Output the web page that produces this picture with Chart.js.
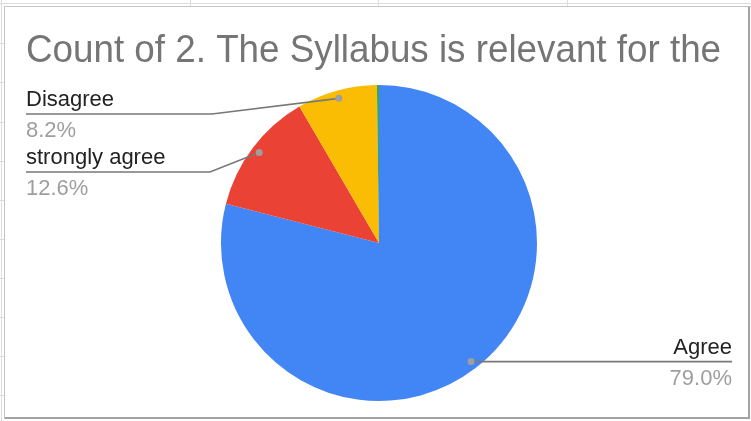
<!DOCTYPE html>
<html>
<head>
<meta charset="utf-8">
<script src="https://cdn.jsdelivr.net/npm/chart.js@4"></script>
<style>
  html, body { margin: 0; padding: 0; background: #fff; }
  #wrap { position: relative; width: 751px; height: 421px; }
</style>
</head>
<body>
<div id="wrap"><canvas id="c" width="751" height="421"></canvas></div>
<script>
// ---- data ----
const titleText = 'Count of 2. The Syllabus is relevant for the';
const categories = ['Agree', 'strongly agree', 'Disagree', 'Strongly disagree'];
const counts = [376, 60, 39, 1];
const sliceColors = ['#4285F4', '#EA4335', '#FBBC04', '#34A853'];
const labelledSlices = ['Agree', 'strongly agree', 'Disagree'];

const FONT = '"Liberation Sans", Arial, sans-serif';

// background: spreadsheet gridlines + chart frame
const sheetBg = {
  id: 'sheetBg',
  beforeDraw(chart) {
    const ctx = chart.ctx;
    const W = chart.width, H = chart.height;
    ctx.save();
    ctx.fillStyle = '#ffffff';
    ctx.fillRect(0, 0, W, H);
    ctx.strokeStyle = '#dcdcdc';
    ctx.lineWidth = 1;
    ctx.beginPath();
    ctx.moveTo(0, 3.5); ctx.lineTo(W, 3.5);
    ctx.moveTo(1.5, 0); ctx.lineTo(1.5, H);
    [190, 378, 567].forEach(x => { ctx.moveTo(x + 0.5, 0); ctx.lineTo(x + 0.5, 6); });
    [43, 82, 122, 161, 200, 239, 278, 317, 356, 395].forEach(y => { ctx.moveTo(0, y + 0.5); ctx.lineTo(4, y + 0.5); });
    ctx.stroke();
    // chart frame
    ctx.strokeStyle = '#c4c4c4';
    ctx.beginPath();
    ctx.moveTo(4.5, 419); ctx.lineTo(4.5, 6.5); ctx.lineTo(751, 6.5);
    ctx.stroke();
    ctx.strokeStyle = '#a3a3a3';
    ctx.lineWidth = 2;
    ctx.beginPath();
    ctx.moveTo(5, 418); ctx.lineTo(749, 418); ctx.lineTo(749, 7);
    ctx.stroke();
    ctx.restore();
  }
};

// title + leader-line labels
const labelPlugin = {
  id: 'labelPlugin',
  afterDraw(chart) {
    const ctx = chart.ctx;
    ctx.save();
    // title
    ctx.translate(26, 62);
    ctx.scale(0.943, 1);
    ctx.font = '39px ' + FONT;
    ctx.fillStyle = '#757575';
    ctx.textBaseline = 'alphabetic';
    ctx.textAlign = 'left';
    ctx.fillText(titleText, 0, 0);
    ctx.restore();

    const meta = chart.getDatasetMeta(0);
    const total = counts.reduce((a, b) => a + b, 0);
    const slots = {
      'Disagree': { side: 'left', lineY: 114, elbowX: 212 },
      'strongly agree': { side: 'left', lineY: 172, elbowX: 210 },
      'Agree': { side: 'right' }
    };
    ctx.save();
    meta.data.forEach((arc, i) => {
      const name = categories[i];
      if (!labelledSlices.includes(name)) return;
      const p = arc.getProps(['x', 'y', 'startAngle', 'endAngle', 'outerRadius'], true);
      const mid = (p.startAngle + p.endAngle) / 2;
      const r = p.outerRadius * 0.95;
      const dx = p.x + Math.cos(mid) * r;
      const dy = p.y + Math.sin(mid) * r;
      const slot = slots[name];
      const pct = (counts[i] / total * 100).toFixed(1) + '%';
      ctx.strokeStyle = '#787878';
      ctx.lineWidth = 1.6;
      let lineY, textX, align;
      ctx.beginPath();
      if (slot.side === 'left') {
        lineY = slot.lineY;
        ctx.moveTo(dx, dy);
        ctx.lineTo(slot.elbowX, lineY);
        ctx.lineTo(26, lineY);
        textX = 26; align = 'left';
      } else {
        lineY = dy;
        ctx.moveTo(dx, lineY);
        ctx.lineTo(732, lineY);
        textX = 732; align = 'right';
      }
      ctx.stroke();
      ctx.fillStyle = '#9e9e9e';
      ctx.beginPath();
      ctx.arc(dx, dy, 3.5, 0, Math.PI * 2);
      ctx.fill();
      ctx.textAlign = align;
      ctx.textBaseline = 'alphabetic';
      ctx.font = '22px ' + FONT;
      ctx.fillStyle = '#222222';
      ctx.fillText(name, textX, lineY - 8);
      ctx.fillStyle = '#9e9e9e';
      ctx.fillText(pct, textX, lineY + 23);
    });
    ctx.restore();
  }
};

new Chart(document.getElementById('c'), {
  type: 'pie',
  data: {
    labels: categories,
    datasets: [{
      data: counts,
      backgroundColor: sliceColors,
      borderWidth: 0,
      hoverOffset: 0
    }]
  },
  options: {
    responsive: false,
    animation: false,
    devicePixelRatio: 1,
    layout: { padding: { top: 85, bottom: 20, left: 221, right: 214 } },
    plugins: {
      legend: { display: false },
      title: { display: false },
      tooltip: { enabled: false }
    }
  },
  plugins: [sheetBg, labelPlugin]
});
</script>
</body>
</html>
